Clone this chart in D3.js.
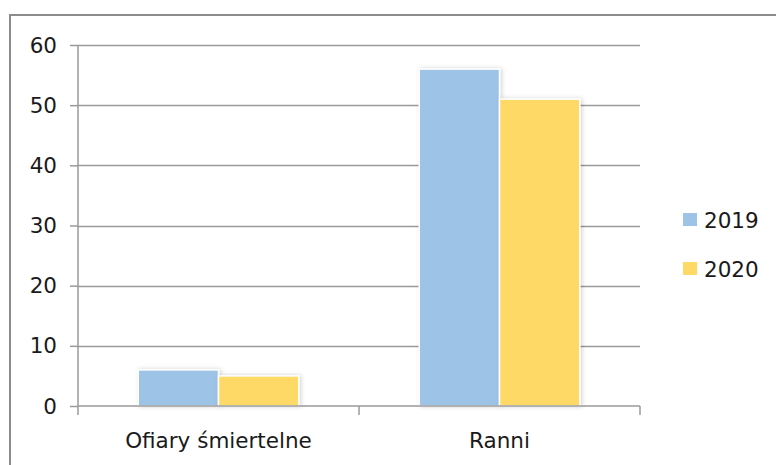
<!DOCTYPE html>
<html><head><meta charset="utf-8">
<script src="https://cdn.jsdelivr.net/npm/d3@7"></script>
<style>
html,body{margin:0;padding:0;background:#fff;}
svg{display:block;}
text{font-family:"DejaVu Sans",sans-serif;fill:#1a1a1a;}
</style></head>
<body>
<svg id="chart" width="776" height="465"></svg>
<script>
const categories = ["Ofiary śmiertelne", "Ranni"];
const seriesNames = ["2019", "2020"];
const values2019 = [6, 56];
const values2020 = [5, 51];
const yTicks = [0, 10, 20, 30, 40, 50, 60];
const colors = ["#9DC3E6", "#FFD966"];
const fs = 21.5;

const svg = d3.select("#chart");
const defs = svg.append("defs");
const f = defs.append("filter").attr("id","sh").attr("x","-20%").attr("y","-20%").attr("width","140%").attr("height","140%");
f.append("feDropShadow").attr("dx",1.5).attr("dy",0).attr("stdDeviation",2).attr("flood-color","#000").attr("flood-opacity",0.18);

// outer frame
svg.append("rect").attr("x",10).attr("y",15).attr("width",800).attr("height",500)
  .attr("fill","none").attr("stroke","#8c8c8c").attr("stroke-width",2);

const pLeft = 78, pRight = 640, pTop = 45, pBottom = 406;
const x0 = d3.scaleBand().domain(categories).range([pLeft, pRight]).paddingInner(0).paddingOuter(0);
const y = d3.scaleLinear().domain([0, 60]).range([pBottom, pTop]);
const barW = x0.bandwidth() / 3.5;
const x1 = d3.scaleBand().domain(seriesNames).range([0, barW*2]);

// gridlines
svg.append("g").selectAll("line").data(yTicks.filter(d=>d>0)).join("line")
  .attr("x1", pLeft).attr("x2", pRight)
  .attr("y1", d=>Math.round(y(d))+0.5).attr("y2", d=>Math.round(y(d))+0.5)
  .attr("stroke","#9a9a9a").attr("stroke-width",1.5);

// y axis
const yAxis = d3.axisLeft(y).tickValues(yTicks).tickSize(8).tickPadding(13);
const gy = svg.append("g").attr("transform",`translate(${pLeft},0)`).call(yAxis);
gy.selectAll("path,line").attr("stroke","#9a9a9a").attr("stroke-width",1.5);
gy.select(".domain").attr("d", `M0,${pTop}V${pBottom}`);
gy.selectAll("text").attr("font-size",fs).attr("font-family","DejaVu Sans").attr("fill","#1a1a1a").attr("dy","0.33em");

// bars
const data = categories.map((c,i)=>({cat:c, vals:[values2019[i], values2020[i]]}));
const groups = svg.append("g").selectAll("g").data(data).join("g")
  .attr("transform", d=>`translate(${x0(d.cat) + (x0.bandwidth()-barW*2)/2},0)`);
groups.selectAll("rect").data(d=>d.vals.map((v,j)=>({v, s:seriesNames[j], j}))).join("rect")
  .attr("x", d=>x1(d.s)).attr("width", x1.bandwidth())
  .attr("y", d=>y(d.v)).attr("height", d=>pBottom - y(d.v))
  .attr("fill", d=>colors[d.j]).attr("stroke","#fff").attr("stroke-width",1.5)
  .attr("filter","url(#sh)");

// x axis
const xAxis = d3.axisBottom(x0).tickSize(0).tickPadding(0);
const gx = svg.append("g").attr("transform",`translate(0,${pBottom})`).call(xAxis);
gx.select(".domain").attr("stroke","#9a9a9a").attr("stroke-width",1.5).attr("d",`M${pLeft},0H${pRight}`);
gx.selectAll("text").attr("font-size",fs).attr("font-family","DejaVu Sans").attr("fill","#1a1a1a").attr("y",42).attr("dy",0);
// category separators ticks
const bounds = [pLeft, ...categories.slice(1).map(c=>x0(c)), pRight];
gx.append("g").selectAll("line").data(bounds).join("line")
  .attr("x1",d=>d).attr("x2",d=>d).attr("y1",0).attr("y2",9)
  .attr("stroke","#9a9a9a").attr("stroke-width",1.5);

// legend
const lg = svg.append("g").selectAll("g").data(seriesNames).join("g")
  .attr("transform",(d,i)=>`translate(683,${213 + i*49})`);
lg.append("rect").attr("width",14).attr("height",13).attr("fill",(d,i)=>colors[i]);
lg.append("text").attr("x",21).attr("y",15).attr("font-size",fs).text(d=>d);
</script>
</body></html>
